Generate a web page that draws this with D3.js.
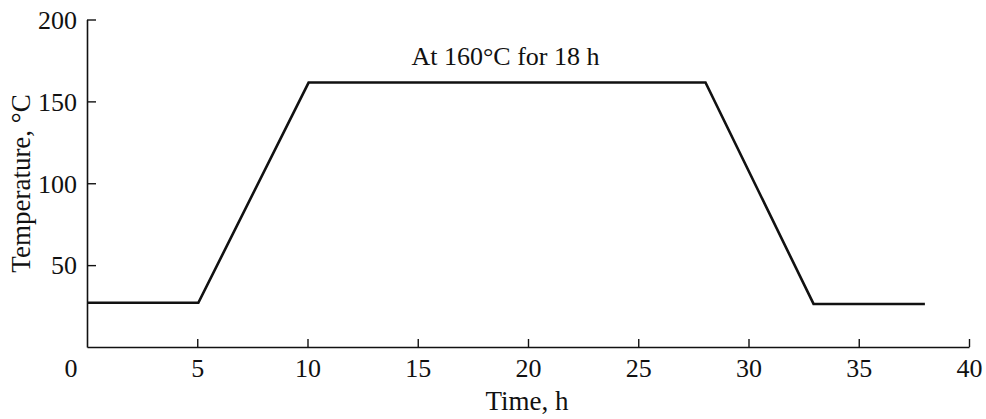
<!DOCTYPE html>
<html><head><meta charset="utf-8">
<script src="https://cdn.jsdelivr.net/npm/d3@7"></script>
<style>body{margin:0;background:#fff;} svg text{font-family:"Liberation Serif","Times New Roman",serif;fill:#111;}</style>
</head><body>
<svg id="c" width="986" height="419"></svg>
<script>
const timeH = [0, 5.05, 10.05, 28.05, 32.95, 38];
const tempC = [27, 27, 161.5, 161.5, 26.3, 26.3];
const xTicks = [5, 10, 15, 20, 25, 30, 35, 40];
const yTicks = [50, 100, 150, 200];
const annotation = "At 160°C for 18 h";

const svg = d3.select("#c");
const x = d3.scaleLinear().domain([0, 40]).range([87, 969]);
const y = d3.scaleLinear().domain([0, 200]).range([347, 19.5]);

const gx = svg.append("g").attr("transform", `translate(0,${y(0)})`)
  .call(d3.axisBottom(x).tickValues(xTicks).tickSizeInner(-8).tickSizeOuter(0).tickPadding(12).tickFormat(d3.format("d")));
const gy = svg.append("g").attr("transform", `translate(${x(0)},0)`)
  .call(d3.axisLeft(y).tickValues(yTicks).tickSizeInner(-9).tickSizeOuter(0).tickPadding(10).tickFormat(d3.format("d")));
[gx, gy].forEach(g => {
  g.select(".domain").attr("stroke", "#111").attr("stroke-width", 1.6);
  g.selectAll(".tick line").attr("stroke", "#111").attr("stroke-width", 1.4);
  g.selectAll(".tick text").attr("font-size", 26).attr("fill", "#111");
});
gx.selectAll(".tick text").attr("dy", "0.71em");
gy.selectAll(".tick text").attr("dy", "0.34em");
// shared origin label
svg.append("text").attr("x", x(0) - 16).attr("y", 377).attr("text-anchor", "middle")
  .attr("font-size", 26).text("0");

const line = d3.line().x((d, i) => x(timeH[i])).y(d => y(d));
svg.append("path").datum(tempC).attr("d", line)
  .attr("fill", "none").attr("stroke", "#111").attr("stroke-width", 2.6).attr("stroke-linejoin", "miter");

svg.append("text").attr("x", 505.5).attr("y", 65).attr("text-anchor", "middle")
  .attr("font-size", 26).text(annotation);

svg.append("text").attr("x", 527).attr("y", 410).attr("text-anchor", "middle")
  .attr("font-size", 27).text("Time, h");
svg.append("text").attr("transform", "translate(30,183.5) rotate(-90)").attr("text-anchor", "middle")
  .attr("font-size", 27).text("Temperature, °C");
</script>
</body></html>
